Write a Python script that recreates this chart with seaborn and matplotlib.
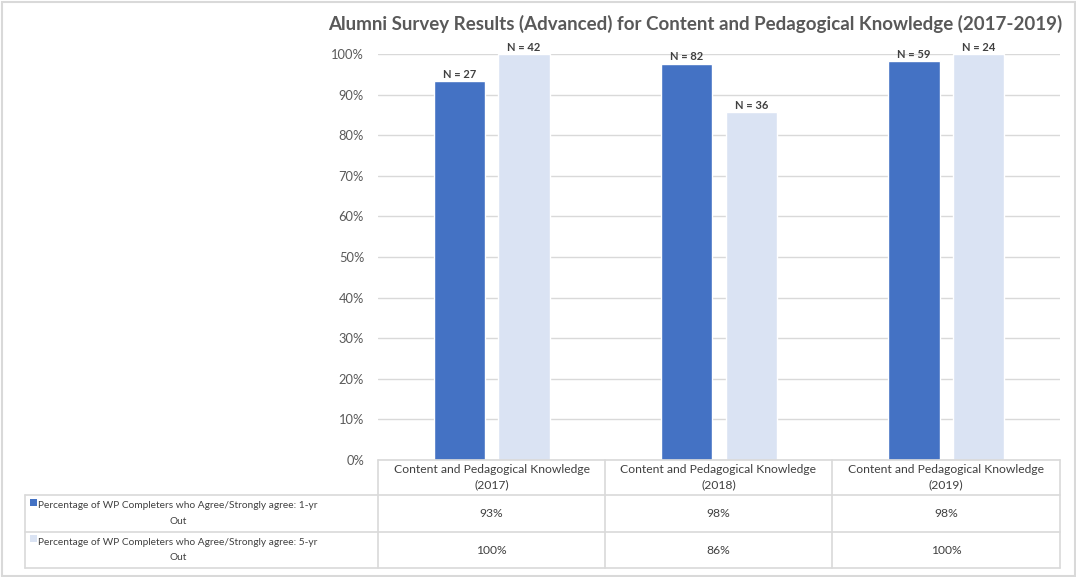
import matplotlib
matplotlib.use("Agg")
import matplotlib.pyplot as plt
import seaborn as sns
import pandas as pd
from matplotlib.patches import Rectangle
from matplotlib.lines import Line2D

# ---- data ----
categories = ["Content and Pedagogical Knowledge\n(2017)",
              "Content and Pedagogical Knowledge\n(2018)",
              "Content and Pedagogical Knowledge\n(2019)"]
series_names = ["Percentage of WP Completers who Agree/Strongly agree: 1-yr\nOut",
                "Percentage of WP Completers who Agree/Strongly agree: 5-yr\nOut"]
one_yr = [0.933, 0.976, 0.983]
five_yr = [1.0, 0.857, 1.0]
one_yr_n = ["N = 27", "N = 82", "N = 59"]
five_yr_n = ["N = 42", "N = 36", "N = 24"]
one_yr_table = ["93%", "98%", "98%"]
five_yr_table = ["100%", "86%", "100%"]
title = "Alumni Survey Results (Advanced) for Content and Pedagogical Knowledge (2017-2019)"
yticks = [0, 0.1, 0.2, 0.3, 0.4, 0.5, 0.6, 0.7, 0.8, 0.9, 1.0]

colors = ["#4472C4", "#DAE3F3"]

sns.set_theme(style="white")
plt.rcParams['font.family'] = ['Lato', 'DejaVu Sans']

W, H = 1076, 577
fig = plt.figure(figsize=(W / 100, H / 100), dpi=100)

def fx(px):
    return px / W

def fy(py):
    return 1 - py / H

# plot area: x 378..1060, y 54..460
left, right, top, bottom = 378, 1060, 54, 460
ax = fig.add_axes([fx(left), fy(bottom), fx(right - left), (bottom - top) / H])

df = pd.DataFrame({
    "cat": categories * 2,
    "series": [series_names[0]] * 3 + [series_names[1]] * 3,
    "value": one_yr + five_yr,
})
sns.barplot(data=df, x="cat", y="value", hue="series", palette=colors,
            width=0.57, gap=0.21, ax=ax, legend=False, saturation=1)

ax.set_xlim(-0.5, 2.5)
ax.set_ylim(0, 1.0)
ax.set_yticks(yticks)
ax.set_yticklabels([f"{int(round(t * 100))}%" for t in yticks])
ax.tick_params(axis='y', labelsize=9.3, colors="#595959", length=0, pad=10)
ax.set_xticks([])
ax.set_xlabel("")
ax.set_ylabel("")
for s in ax.spines.values():
    s.set_visible(False)
ax.yaxis.grid(True, color="#D9D9D9", linewidth=1)
ax.set_axisbelow(True)

# data labels
labels_all = [one_yr_n, five_yr_n]
for cont, labs in zip(ax.containers, labels_all):
    ax.bar_label(cont, labels=labs, padding=1, fontsize=8, fontweight="bold",
                 color="#404040", clip_on=False)

fig.text(fx(695), fy(24), title, ha="center", va="center", fontsize=13.5,
         fontweight="bold", color="#595959")

# ---- data table ----
line_c = "#D9D9D9"
col_x = [378, 605, 832, 1060]
row_y = [460, 495, 532, 568]
tl_left = 25

def hline(x0, x1, y):
    fig.add_artist(Line2D([fx(x0), fx(x1)], [fy(y), fy(y)], color=line_c, lw=1.2))

def vline(x, y0, y1):
    fig.add_artist(Line2D([fx(x), fx(x)], [fy(y0), fy(y1)], color=line_c, lw=1.2))

hline(col_x[0], col_x[-1], row_y[0])
for y in row_y[1:]:
    hline(tl_left, col_x[-1], y)
for x in col_x:
    vline(x, row_y[0], row_y[-1])
vline(tl_left, row_y[1], row_y[-1])

txt_c = "#404040"
for i, cat in enumerate(categories):
    cx = (col_x[i] + col_x[i + 1]) / 2
    fig.text(fx(cx), fy((row_y[0] + row_y[1]) / 2), cat, ha="center", va="center",
             fontsize=8.7, color=txt_c, multialignment="center", linespacing=1.45)
    fig.text(fx(cx), fy((row_y[1] + row_y[2]) / 2), one_yr_table[i], ha="center",
             va="center", fontsize=8.7, color=txt_c)
    fig.text(fx(cx), fy((row_y[2] + row_y[3]) / 2), five_yr_table[i], ha="center",
             va="center", fontsize=8.7, color=txt_c)

for r, (name, col) in enumerate(zip(series_names, colors)):
    yc = (row_y[r + 1] + row_y[r + 2]) / 2
    fig.text(fx(178), fy(yc), name, ha="center", va="center", fontsize=7.3,
             color=txt_c, multialignment="center", linespacing=1.9)
    fig.add_artist(Rectangle((fx(30), fy(yc - 8)), 7 / W, 7 / H, facecolor=col,
                             edgecolor="none"))

# outer border
fig.add_artist(Rectangle((fx(1.5), fy(575.5)), (W - 3) / W, (H - 3) / H,
                         facecolor="none", edgecolor="#D9D9D9", lw=1.5))

fig.savefig("out.png", dpi=100)
